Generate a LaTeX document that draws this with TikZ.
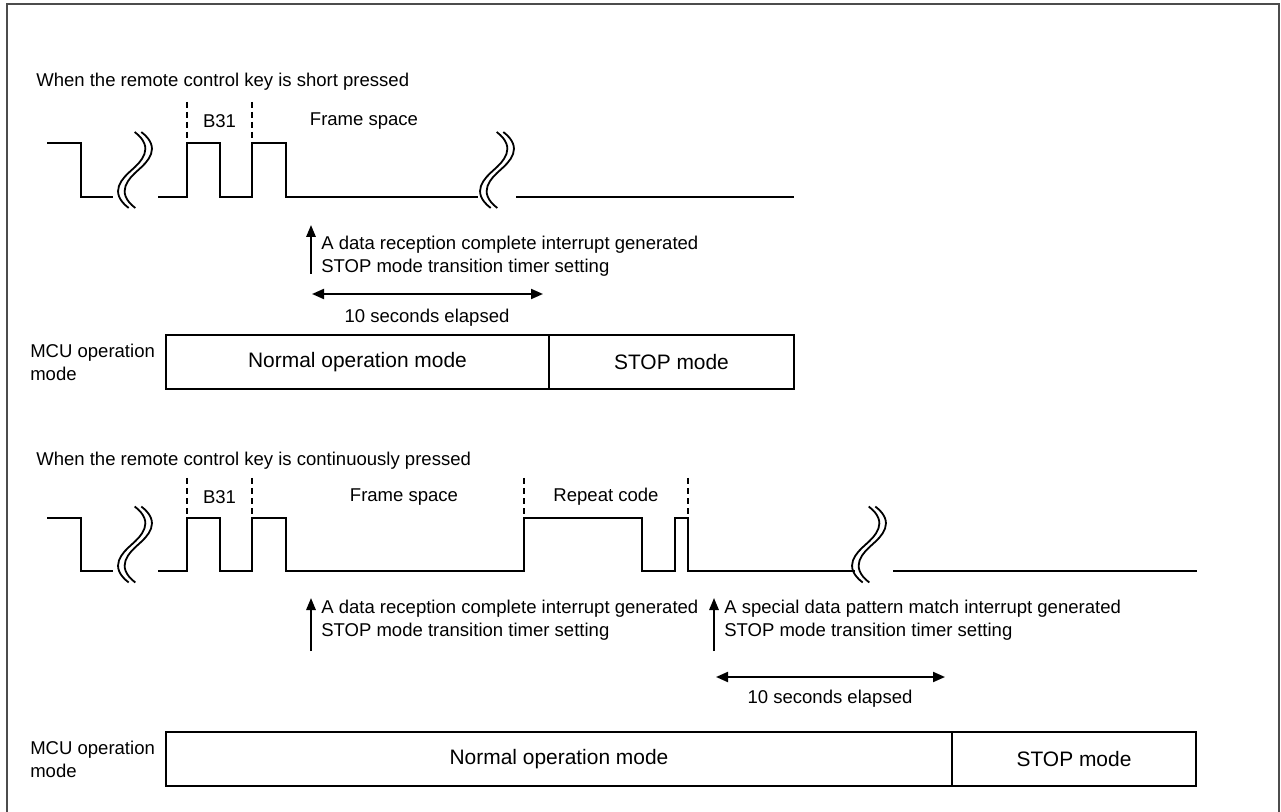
\documentclass[tikz,border=0pt]{standalone}
\usepackage{fontspec}
\setmainfont{Liberation Sans}
\usetikzlibrary{arrows.meta}
% double wavy line marking an interrupted time axis, centred at (#1,#2)
\newcommand\wavebreak[2]{%
  \foreach \dx in {-3.3,3.3} {
    \draw[line width=1.35pt] ({#1+3+\dx},{#2-38}) .. controls ({#1+24+\dx},{#2-22}) and ({#1+9+\dx},{#2-8}) .. ({#1+\dx},{#2})
      .. controls ({#1-9+\dx},{#2+8}) and ({#1-24+\dx},{#2+22}) .. ({#1-3+\dx},{#2+38});
  }}
\begin{document}
\begin{tikzpicture}[x=0.75pt,y=-0.75pt,
  wave/.style={line width=1.5pt, line join=miter},
  marker/.style={line width=1.1pt, dash pattern=on 4.5pt off 3pt},
  txt/.style={font=\fontsize{13.9}{17.25}\selectfont, inner sep=0pt},
  note/.style={txt, anchor=west, align=left},
  modebox/.style={draw, line width=1.5pt, minimum height=40.5pt, inner sep=0pt,
    font=\fontsize{15.7}{18}\selectfont},
  tip/.style={Triangle[length=9pt,width=7.5pt]},
  arr/.style={line width=1.5pt, -{Triangle[length=9pt,width=7pt]}},
  darr/.style={line width=1.5pt, {Triangle[length=9pt,width=7.5pt]}-{Triangle[length=9pt,width=7.5pt]}}]
\useasboundingbox (0,0) rectangle (1281,812);
% outer frame
\draw[black!70, line width=1.2pt] (7,812) -- (7,4) -- (1279,4) -- (1279,812);

% ---------- short press ----------
\node[note] (t1) at (36,82) {When the remote control key is short pressed};
\draw[wave] (47,143) -- (81,143) -- (81,197) -- (113,197);
\draw[wave] (158,197) -- (187,197) -- (187,143) -- (220,143) -- (220,197) -- (252,197)
  -- (252,143) -- (286,143) -- (286,197) -- (478,197);
\draw[wave] (516,197) -- (794,197);
\wavebreak{135}{170}
\wavebreak{497}{170}
\draw[marker] (187,102) -- (187,143);
\draw[marker] (252,102) -- (252,143);
\node[txt] (b31a) at (219.5,121) {B31};
\node[txt] (fsa) at (364,121) {Frame space};

\coordinate (up1a) at (311,274);
\coordinate (up1b) at (311,225);
\draw[arr] (up1a) -- (up1b);
\node[note] (n1) at (321,256) {A data reception complete interrupt generated\\STOP mode transition timer setting};
\coordinate (d1a) at (312,294);
\coordinate (d1b) at (543,294);
\draw[darr] (d1a) -- (d1b);
\node[txt] (e1) at (427,318) {10 seconds elapsed};

\node[note] (m1) at (30,362) {MCU operation\\mode};
\node[modebox, minimum width=287.25pt] (norm1) at (357.5,362) {Normal operation mode};
\node[modebox, minimum width=183.75pt] (stop1) at (671.5,362) {STOP mode};

% ---------- continuous press ----------
\node[note] (t2) at (36,461) {When the remote control key is continuously pressed};
\draw[wave] (47,518) -- (81,518) -- (81,571) -- (113,571);
\draw[wave] (158,571) -- (187,571) -- (187,518) -- (220,518) -- (220,571) -- (252,571)
  -- (252,518) -- (286,518) -- (286,571) -- (524,571) -- (524,518) -- (642,518)
  -- (642,571) -- (675,571) -- (675,518) -- (688,518) -- (688,571) -- (855,571);
\draw[wave] (893,571) -- (1197,571);
\wavebreak{135}{544.5}
\wavebreak{869}{544.5}
\draw[marker] (187,478) -- (187,518);
\draw[marker] (252,478) -- (252,518);
\draw[marker] (524,478) -- (524,518);
\draw[marker] (688,478) -- (688,518);
\node[txt] (b31b) at (219.5,497) {B31};
\node[txt] (fsb) at (404,497) {Frame space};
\node[txt] (rep) at (606,497) {Repeat code};

\coordinate (up2a) at (311,651);
\coordinate (up2b) at (311,598);
\draw[arr] (up2a) -- (up2b);
\node[note] (n2) at (321,620) {A data reception complete interrupt generated\\STOP mode transition timer setting};
\coordinate (up3a) at (714,651);
\coordinate (up3b) at (714,598);
\draw[arr] (up3a) -- (up3b);
\node[note] (n3) at (724,620) {A special data pattern match interrupt generated\\STOP mode transition timer setting};
\coordinate (d2a) at (716,677);
\coordinate (d2b) at (945,677);
\draw[darr] (d2a) -- (d2b);
\node[txt] (e2) at (830,699) {10 seconds elapsed};

\node[note] (m2) at (30,759) {MCU operation\\mode};
\node[modebox, minimum width=589.5pt] (norm2) at (559,759) {Normal operation mode};
\node[modebox, minimum width=183pt] (stop2) at (1074,759) {STOP mode};
\end{tikzpicture}
\end{document}
